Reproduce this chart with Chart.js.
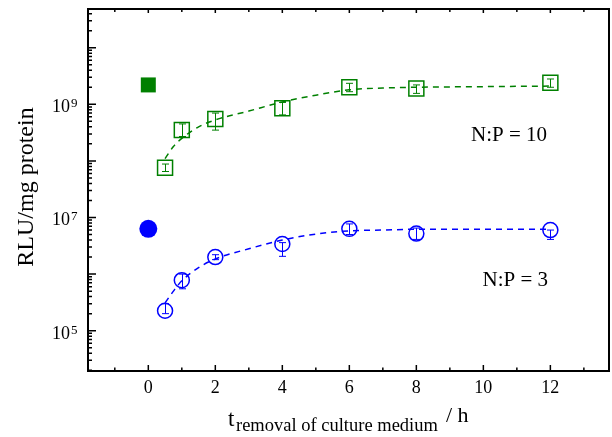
<!DOCTYPE html>
<html>
<head>
<meta charset="utf-8">
<script src="https://cdn.jsdelivr.net/npm/chart.js@4"></script>
<style>
  body { margin: 0; background: #fff; }
  #wrap { width: 612px; height: 437px; }
</style>
</head>
<body>
<div id="wrap"><canvas id="graph" width="612" height="437"></canvas></div>
<script>
// measured points, t in hours
const times = [0.5, 1, 2, 4, 6, 8, 12];

// N:P = 10 (green squares)
const np10 = [7.6e7, 3.5e8, 5.5e8, 8.5e8, 2.0e9, 1.9e9, 2.4e9];
const np10Low = [6.5e7, 2.7e8, 3.5e8, 6.5e8, 1.67e9, 1.56e9, 2.0e9];
const np10High = [8.8e7, 4.5e8, 7.0e8, 1.08e9, 2.35e9, 2.2e9, 2.8e9];
const np10Ctrl = 2.2e9; // t = 0, filled

// N:P = 3 (blue circles)
const np3 = [2.25e5, 7.8e5, 2.0e6, 3.4e6, 6.3e6, 5.2e6, 6.0e6];
const np3Low = [2.0e5, 5.5e5, 1.8e6, 2.06e6, 5.0e6, 4.1e6, 4.1e6];
const np3High = [3.0e5, 1.0e6, 2.2e6, 3.6e6, 7.7e6, 6.5e6, 6.0e6];
const np3Ctrl = 6.3e6;

// dashed fit curves
const fitTimes = [0.5, 0.75, 1, 1.5, 2, 3, 4, 5, 6, 7, 8, 10, 12];
const fit10 = [1.1e8, 1.8e8, 2.5e8, 4.0e8, 5.3e8, 7.6e8, 1.1e9, 1.45e9, 1.8e9, 1.94e9, 2.0e9, 2.05e9, 2.1e9];
const fit3 = [3.1e5, 5.0e5, 7.6e5, 1.3e6, 1.85e6, 2.8e6, 4.0e6, 5.1e6, 5.8e6, 6.0e6, 6.2e6, 6.2e6, 6.2e6];

const xTickLabels = [0, 2, 4, 6, 8, 10, 12];
const yTickExps = [5, 7, 9];

const green = "#008000";
const blue = "#0000ff";
const serif = "'Liberation Serif', 'DejaVu Serif', serif";

const toXY = (xs, ys) => xs.map((x, i) => ({ x: x, y: ys[i] }));

// error bars + frame + ticks + texts
const decor = {
  id: "decor",
  afterDatasetsDraw(chart) {
    const ctx = chart.ctx;
    const xs = chart.scales.x, ys = chart.scales.y;
    const a = chart.chartArea;
    ctx.save();

    // error bars
    const bars = [
      [np10Low, np10High, green],
      [np3Low, np3High, blue],
    ];
    ctx.lineWidth = 1;
    bars.forEach(([lo, hi, col]) => {
      ctx.strokeStyle = col;
      times.forEach((t, i) => {
        const px = Math.round(xs.getPixelForValue(t)) + 0.5;
        const y1 = ys.getPixelForValue(lo[i]);
        const y2 = ys.getPixelForValue(hi[i]);
        ctx.beginPath();
        ctx.moveTo(px, y1); ctx.lineTo(px, y2);
        ctx.moveTo(px - 3.5, y1); ctx.lineTo(px + 3.5, y1);
        ctx.moveTo(px - 3.5, y2); ctx.lineTo(px + 3.5, y2);
        ctx.stroke();
      });
    });

    // frame
    ctx.strokeStyle = "#000";
    ctx.lineWidth = 2;
    ctx.strokeRect(a.left, a.top, a.right - a.left, a.bottom - a.top);

    // ticks (inward)
    ctx.lineWidth = 1.5;
    ctx.beginPath();
    for (let e = 4; e <= 10; e++) {
      for (let m = 1; m <= 9; m++) {
        const v = m * Math.pow(10, e);
        if (v < ys.min || v > ys.max) continue;
        const py = ys.getPixelForValue(v);
        const len = m === 1 ? 8 : 4;
        ctx.moveTo(a.left, py); ctx.lineTo(a.left + len, py);
      }
    }
    for (let i = -1; i <= 13; i++) {
      const px = xs.getPixelForValue(i);
      const len = i % 2 === 0 ? 6 : 3.5;
      ctx.moveTo(px, a.bottom); ctx.lineTo(px, a.bottom - len);
      ctx.moveTo(px, a.top); ctx.lineTo(px, a.top + (i % 2 === 0 ? 4 : 3));
    }
    ctx.stroke();

    ctx.fillStyle = "#000";
    ctx.textBaseline = "alphabetic";

    // x tick labels
    ctx.textAlign = "center";
    ctx.font = "18px " + serif;
    xTickLabels.forEach((v) => {
      ctx.fillText(String(v), xs.getPixelForValue(v), a.bottom + 22);
    });

    // y tick labels 10^n
    ctx.textAlign = "left";
    yTickExps.forEach((e) => {
      const py = ys.getPixelForValue(Math.pow(10, e));
      ctx.font = "18px " + serif;
      ctx.fillText("10", 52, py + 8);
      ctx.font = "13px " + serif;
      ctx.fillText(String(e), 71, py + 3);
    });

    // y title
    ctx.save();
    ctx.translate(33, 187);
    ctx.rotate(-Math.PI / 2);
    ctx.textAlign = "center";
    ctx.font = "24px " + serif;
    ctx.fillText("RLU/mg protein", 0, 0);
    ctx.restore();

    // x title with subscript
    ctx.textAlign = "left";
    ctx.font = "23px " + serif;
    ctx.fillText("t", 228, 426);
    ctx.font = "18.5px " + serif;
    ctx.fillText("removal of culture medium", 236, 431);
    ctx.font = "22px " + serif;
    ctx.fillText("/ h", 446, 422);

    // annotations
    ctx.textAlign = "right";
    ctx.font = "21px " + serif;
    ctx.fillText("N:P = 10", 547, 141);
    ctx.fillText("N:P = 3", 548, 286);

    ctx.restore();
  },
};

const config = {
  type: "scatter",
  data: {
    datasets: [
      {
        label: "fit N:P = 10",
        data: toXY(fitTimes, fit10),
        showLine: true,
        borderColor: green,
        borderWidth: 1.5,
        borderDash: [6, 5],
        pointRadius: 0,
        cubicInterpolationMode: "monotone",
      },
      {
        label: "fit N:P = 3",
        data: toXY(fitTimes, fit3),
        showLine: true,
        borderColor: blue,
        borderWidth: 1.5,
        borderDash: [6, 5],
        pointRadius: 0,
        cubicInterpolationMode: "monotone",
      },
      {
        label: "N:P = 10",
        data: toXY(times, np10),
        pointStyle: "rect",
        pointRadius: 10.6,
        borderColor: green,
        backgroundColor: "rgba(0,0,0,0)",
        borderWidth: 1.5,
      },
      {
        label: "N:P = 3",
        data: toXY(times, np3),
        pointStyle: "circle",
        pointRadius: 7.5,
        borderColor: blue,
        backgroundColor: "rgba(0,0,0,0)",
        borderWidth: 1.5,
      },
      {
        label: "N:P = 10, t = 0",
        data: [{ x: 0, y: np10Ctrl }],
        pointStyle: "rect",
        pointRadius: 10.6,
        borderColor: green,
        backgroundColor: green,
        borderWidth: 0,
      },
      {
        label: "N:P = 3, t = 0",
        data: [{ x: 0, y: np3Ctrl }],
        pointStyle: "circle",
        pointRadius: 9,
        borderColor: blue,
        backgroundColor: blue,
        borderWidth: 0,
      },
    ],
  },
  options: {
    responsive: false,
    animation: false,
    layout: { autoPadding: false, padding: { left: 0, right: 3, top: 9, bottom: 0 } },
    plugins: {
      legend: { display: false },
      tooltip: { enabled: false },
    },
    scales: {
      x: {
        type: "linear",
        min: -1.8,
        max: 13.75,
        grid: { display: false, drawTicks: false },
        border: { display: false },
        ticks: { display: false },
        afterFit: (s) => { s.height = 66; },
      },
      y: {
        type: "logarithmic",
        min: 19400,
        max: 4.83e10,
        grid: { display: false, drawTicks: false },
        border: { display: false },
        ticks: { display: false },
        afterFit: (s) => { s.width = 88; },
      },
    },
  },
  plugins: [decor],
};

window.onload = () => {
  new Chart(document.getElementById("graph"), config);
};
</script>
</body>
</html>
